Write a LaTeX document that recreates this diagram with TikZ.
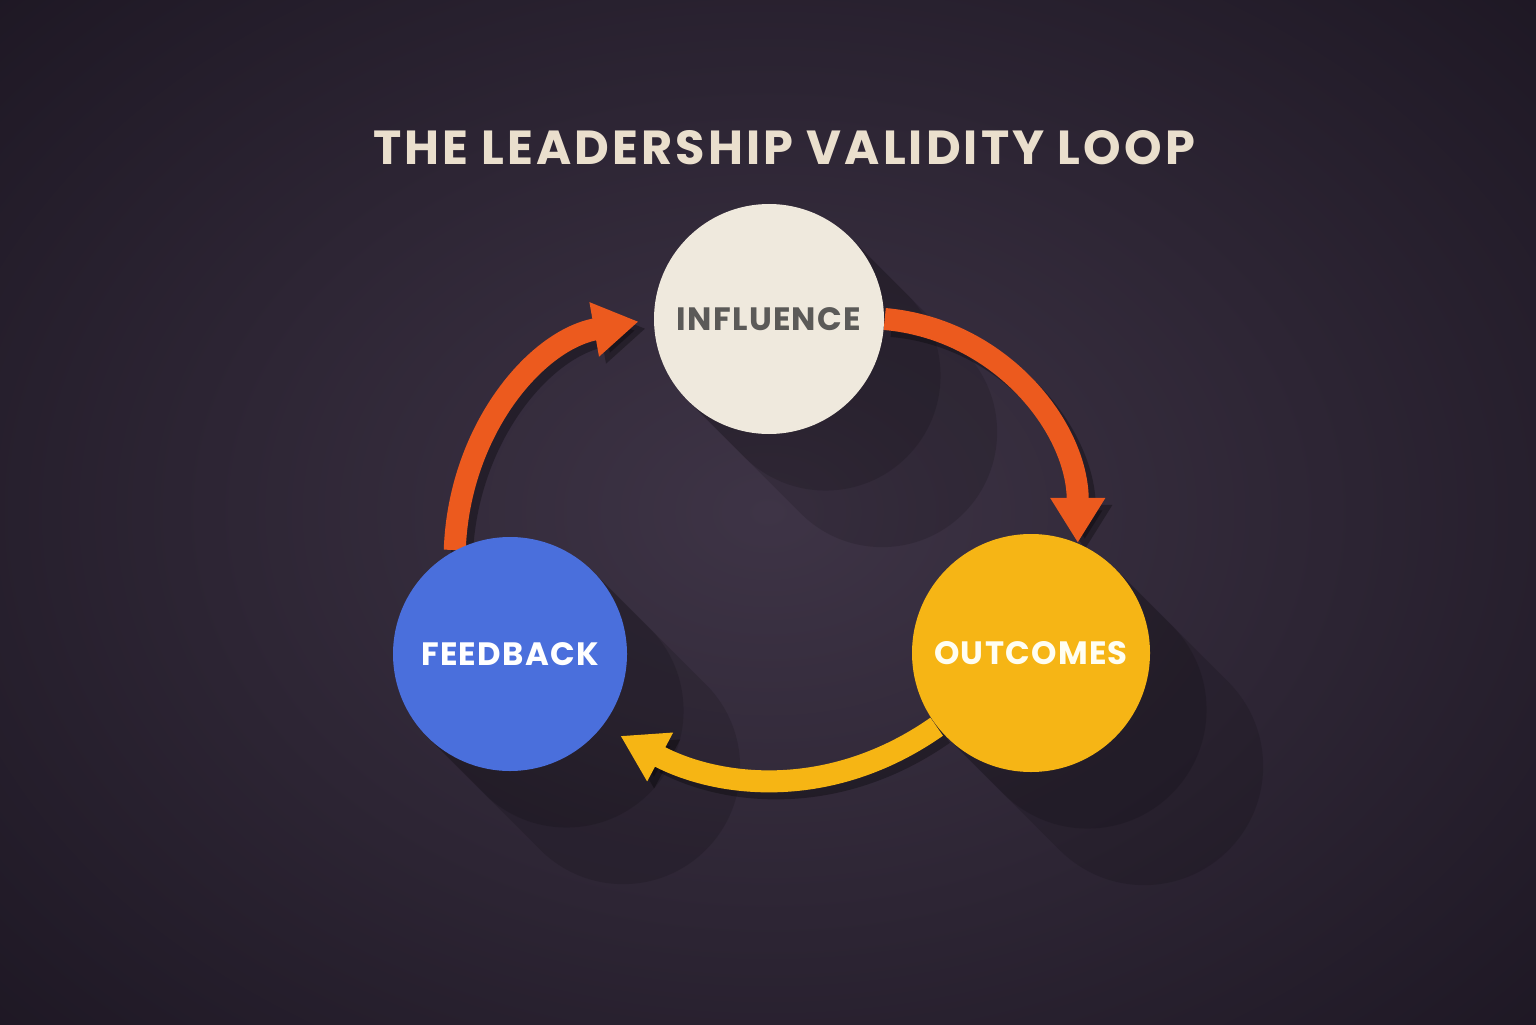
\documentclass[tikz,border=0pt]{standalone}
\usepackage{fontspec}
\setmainfont{Poppins}
\usetikzlibrary{arrows.meta}

\definecolor{bgcenter}{HTML}{3E3446}
\definecolor{bgedge}{HTML}{1C1622}
\definecolor{titlecream}{HTML}{EADFCD}
\definecolor{inflcream}{HTML}{EFE9DD}
\definecolor{infltext}{HTML}{5B5A58}
\definecolor{fbblue}{HTML}{4A6FDC}
\definecolor{outyellow}{HTML}{F6B515}
\definecolor{arroworange}{HTML}{EC5A1E}
\definecolor{arrowyellow}{HTML}{F6B514}

\begin{document}
\begin{tikzpicture}[
        loopcircle/.style = {circle, inner sep = 0pt, font = \fontsize{9.2}{11}\selectfont\bfseries\addfontfeature{LetterSpace = 4}},
        looparrow/.style = {line width = 0.22cm, -{Triangle[width = 0.52cm, length = 0.45cm]}},
        arrowshadow/.style = {black, opacity = 0.3, transform canvas = {shift = {(0.07,-0.07)}}},
        longshadow/.style = {black, opacity = 0.13}
    ]
    \useasboundingbox (0,0) rectangle (15.36,10.24);
    % background
    \shade[inner color = bgcenter, outer color = bgedge] (-3.5,-3) rectangle (18.86,13.24);

    % long shadows of the circles
    \fill[longshadow] (7.69,7.05) ++(45:1.15) -- ++(-45:1.6) arc[start angle = 45, end angle = -135, radius = 1.15] -- ++(135:1.6) -- cycle;
    \fill[longshadow] (7.69,7.05) ++(45:1.15) -- ++(-45:0.8) arc[start angle = 45, end angle = -135, radius = 1.15] -- ++(135:0.8) -- cycle;
    \fill[longshadow] (5.10,3.70) ++(45:1.17) -- ++(-45:1.6) arc[start angle = 45, end angle = -135, radius = 1.17] -- ++(135:1.6) -- cycle;
    \fill[longshadow] (5.10,3.70) ++(45:1.17) -- ++(-45:0.8) arc[start angle = 45, end angle = -135, radius = 1.17] -- ++(135:0.8) -- cycle;
    \fill[longshadow] (10.31,3.71) ++(45:1.19) -- ++(-45:1.6) arc[start angle = 45, end angle = -135, radius = 1.19] -- ++(135:1.6) -- cycle;
    \fill[longshadow] (10.31,3.71) ++(45:1.19) -- ++(-45:0.8) arc[start angle = 45, end angle = -135, radius = 1.19] -- ++(135:0.8) -- cycle;

    % title
    \node[font = \fontsize{13.6}{16}\selectfont\bfseries\addfontfeature{LetterSpace = 6.5}, text = titlecream] (title) at (7.84, 8.76) {THE LEADERSHIP VALIDITY LOOP};

    % circles (placed first as coordinates, drawn after the arrows)
    \coordinate (influencec) at (7.69, 7.05);
    \coordinate (feedbackc) at (5.10, 3.70);
    \coordinate (outcomesc) at (10.31, 3.71);
    \path (influencec) node[loopcircle, minimum size = 2.30cm] (influence) {};
    \path (feedbackc) node[loopcircle, minimum size = 2.34cm] (feedback) {};
    \path (outcomesc) node[loopcircle, minimum size = 2.38cm] (outcomes) {};

    % arrows
    \draw[looparrow, arrowshadow, shorten > = 0.15cm] (feedback.118) to[out = 88, in = 190] (influence.west);
    \draw[looparrow, arrowshadow] (influence.east) to[out = -5, in = 90] (outcomes.67);
    \draw[looparrow, arrowshadow, shorten > = 0.2cm] (outcomes.218) to[out = 215, in = -28] (feedback.-38);
    \draw[looparrow, arroworange, shorten > = 0.15cm] (feedback.118) to[out = 88, in = 190] (influence.west);
    \draw[looparrow, arroworange] (influence.east) to[out = -5, in = 90] (outcomes.67);
    \draw[looparrow, arrowyellow, shorten > = 0.2cm] (outcomes.218) to[out = 215, in = -28] (feedback.-38);

    \node[loopcircle, minimum size = 2.30cm, fill = inflcream, text = infltext] at (influencec) {INFLUENCE};
    \node[loopcircle, minimum size = 2.34cm, fill = fbblue, text = white] at (feedbackc) {FEEDBACK};
    \node[loopcircle, minimum size = 2.38cm, fill = outyellow, text = white!95!yellow] at (outcomesc) {OUTCOMES};
\end{tikzpicture}
\end{document}
